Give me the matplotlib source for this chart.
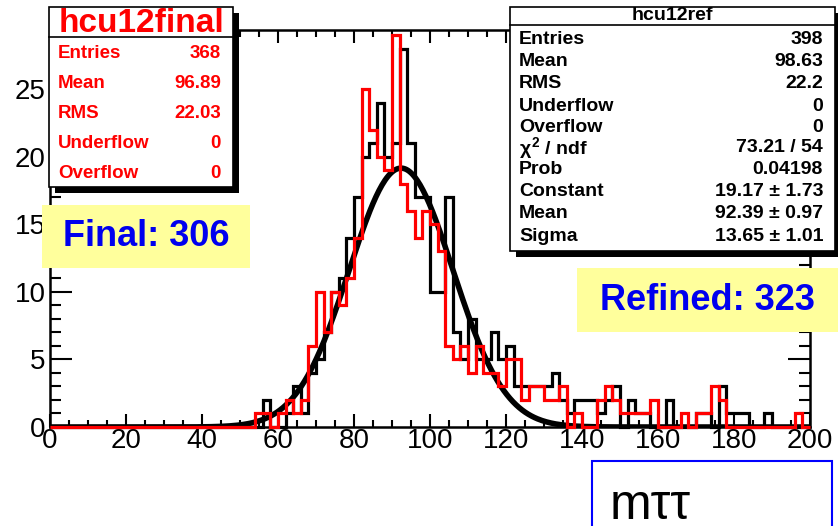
import matplotlib
matplotlib.use('Agg')
import matplotlib.pyplot as plt
from matplotlib.patches import Rectangle
from matplotlib.lines import Line2D
import numpy as np

plt.rcParams['font.family'] = ['Liberation Sans', 'DejaVu Sans']
plt.rcParams['mathtext.fontset'] = 'custom'
plt.rcParams['mathtext.rm'] = 'Liberation Sans:bold'
plt.rcParams['mathtext.it'] = 'Liberation Sans:bold'
plt.rcParams['mathtext.bf'] = 'Liberation Sans:bold'

# m_tautau histograms, 100 bins of width 2 GeV from 0 to 200
bin_edges = np.arange(0, 202, 2)

final_counts = [
    0, 0, 0, 0, 0, 0, 0, 0, 0, 0,
    0, 0, 0, 0, 0, 0, 0, 0, 0, 0,
    0, 0, 0, 0, 0, 0, 0, 1, 1, 0,
    1, 2, 1, 2, 6, 10, 7, 10, 9, 11,
    14, 25, 22, 20, 19, 29, 18, 16, 14, 16,
    15, 13, 6, 5, 6, 4, 6, 4, 4, 3,
    5, 5, 2, 3, 3, 2, 2, 3, 0, 1,
    0, 0, 2, 3, 2, 1, 1, 1, 1, 2,
    0, 0, 0, 1, 0, 1, 1, 3, 2, 0,
    0, 0, 0, 0, 0, 0, 0, 0, 1, 0,
]

ref_counts = [
    0, 0, 0, 0, 0, 0, 0, 0, 0, 0,
    0, 0, 0, 0, 0, 0, 0, 0, 0, 0,
    0, 0, 0, 0, 0, 0, 0, 0, 2, 0,
    0, 1, 3, 1, 4, 5, 7, 10, 11, 14,
    17, 20, 21, 24, 20, 21, 28, 21, 17, 17,
    10, 10, 17, 7, 5, 8, 5, 5, 7, 5,
    6, 3, 3, 3, 3, 3, 4, 2, 1, 2,
    2, 2, 1, 2, 3, 0, 2, 1, 1, 0,
    0, 2, 0, 0, 0, 1, 1, 0, 3, 1,
    1, 1, 0, 0, 1, 0, 0, 0, 0, 0,
]

# gaussian fit to the reference histogram
fit_const, fit_mean, fit_sigma = 19.17, 92.39, 13.65

final_stats = [("Entries", "368"), ("Mean", "96.89"), ("RMS", "22.03"),
               ("Underflow", "0"), ("Overflow", "0")]
ref_stats = [("Entries", "398"), ("Mean", "98.63"), ("RMS", "22.2"),
             ("Underflow", "0"), ("Overflow", "0"),
             (r"$\chi^{2}$ / ndf", "73.21 / 54"), ("Prob", "0.04198"),
             ("Constant", "19.17 \u00b1 1.73"), ("Mean", "92.39 \u00b1 0.97"),
             ("Sigma", "13.65 \u00b1 1.01")]

W, H = 838, 526


def fx(x):
    return x / W


def fy(y):
    return 1 - y / H


fig = plt.figure(figsize=(W / 100, H / 100), dpi=100)
ax = fig.add_axes([fx(50), fy(427), fx(810) - fx(50), fy(30) - fy(427)])

ax.stairs(ref_counts, bin_edges, color='black', lw=2.3, clip_on=False, zorder=3)
xf = np.linspace(0, 200, 500)
ax.plot(xf, fit_const * np.exp(-0.5 * ((xf - fit_mean) / fit_sigma) ** 2),
        color='black', lw=4, zorder=4)
ax.stairs(final_counts, bin_edges, color='red', lw=2.3, clip_on=False, zorder=5)

ax.set_xlim(0, 200)
ax.set_ylim(0, 29.4)
ax.set_xticks(range(0, 201, 20))
ax.set_xticks(range(0, 201, 5), minor=True)
ax.set_yticks(range(0, 26, 5))
ax.set_yticks(range(0, 30), minor=True)
ax.tick_params(which='both', direction='in', top=True, right=True, width=1.5,
               labelsize=20, colors='black')
ax.tick_params(axis='x', which='major', length=9.5, pad=1)
ax.tick_params(axis='x', which='minor', length=5)
ax.tick_params(axis='y', which='major', length=16, pad=3)
ax.tick_params(axis='y', which='minor', length=8)
for s in ax.spines.values():
    s.set_linewidth(1.8)


def rect(x0, y0, x1, y1, z, **kw):
    r = Rectangle((fx(x0), fy(y1)), (x1 - x0) / W, (y1 - y0) / H,
                  transform=fig.transFigure, zorder=z, **kw)
    fig.add_artist(r)


def hline(x0, x1, y, z):
    fig.add_artist(Line2D([fx(x0), fx(x1)], [fy(y), fy(y)], transform=fig.transFigure,
                          color='black', lw=1.2, zorder=z))


def stats_box(x0, y0, x1, y1, ysep, title, rows, row_y, color, tsize, size, title_y):
    rect(x0 + 6, y0 + 6, x1 + 6, y1 + 6, 5, facecolor='black', edgecolor='none')
    rect(x0, y0, x1, y1, 6, facecolor='white', edgecolor='black', lw=1.2)
    hline(x0, x1, ysep, 7)
    fig.text(fx((x0 + x1) / 2), fy(title_y), title, color=color, fontsize=tsize,
             fontweight='bold', ha='center', va='center', zorder=8)
    for (lab, val), yy in zip(rows, row_y):
        fig.text(fx(x0 + 9), fy(yy), lab, color=color, fontsize=size,
                 fontweight='bold', ha='left', va='center', zorder=8)
        fig.text(fx(x1 - 12), fy(yy), val, color=color, fontsize=size,
                 fontweight='bold', ha='right', va='center', zorder=8)


stats_box(49, 7, 233, 187, 37, "hcu12final", final_stats,
          [53, 83, 113, 144, 173], 'red', 24, 13.5, 23)
stats_box(510, 7, 835, 251, 25, "hcu12ref", ref_stats,
          [40, 62, 84, 106, 128, 148, 170, 192, 214, 236], 'black', 14, 14, 15)

# event count labels
rect(42, 205, 250, 268, 6, facecolor='#ffff9c', edgecolor='none')
fig.text(fx(146), fy(237), "Final: 306", color='#0000ee', fontsize=26,
         fontweight='bold', ha='center', va='center', zorder=8)
rect(577, 268, 840, 332, 6, facecolor='#ffff9c', edgecolor='none')
fig.text(fx(707), fy(300), "Refined: 323", color='#0000ee', fontsize=26,
         fontweight='bold', ha='center', va='center', zorder=8)

# axis title box
rect(592, 461, 832, 540, 6, facecolor='white', edgecolor='#0000ff', lw=1.5)
fig.text(fx(610), fy(519), "m\u03c4\u03c4", color='black', fontsize=36,
         ha='left', va='baseline', zorder=8)

fig.savefig('out.png', dpi=100)
